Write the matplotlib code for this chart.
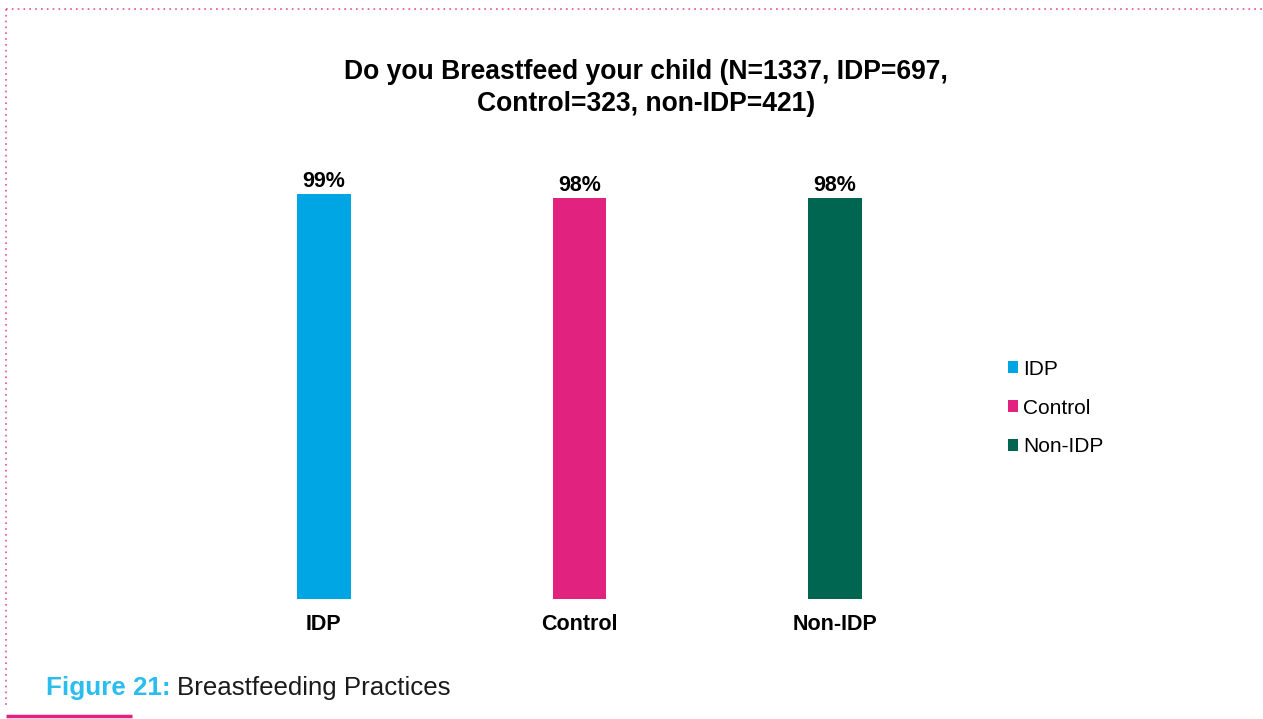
import matplotlib.pyplot as plt
from matplotlib.lines import Line2D
from matplotlib.patches import Patch

plt.rcParams['font.family'] = ['Liberation Sans', 'DejaVu Sans']

# Do you breastfeed your child (share answering yes)
groups = ['IDP', 'Control', 'Non-IDP']
values = [99, 98, 98]
labels = ['99%', '98%', '98%']
colors = ['#00A5E3', '#E2227F', '#006652']

W, H = 1263, 719
fig = plt.figure(figsize=(W / 100, H / 100), dpi=100)

# axes placed in pixel terms: bars baseline at y=599
ax = fig.add_axes([196 / W, (H - 599) / H, 767 / W, 450 / H])
x = list(range(len(groups)))
ax.bar(x, values, width=0.211, color=colors)
ax.set_xlim(-0.5, 2.5)
ax.set_ylim(0, 450 / 4.09)
for xi, v, lab in zip(x, values, labels):
    ax.text(xi, v + 0.5, lab, ha='center', va='bottom', fontsize=15.5, fontweight='bold')
ax.set_xticks(x)
ax.set_xticklabels(groups, fontsize=15.5, fontweight='bold')
ax.tick_params(axis='x', length=0, pad=11)
ax.set_yticks([])
for s in ax.spines.values():
    s.set_visible(False)

fig.text(646 / W, 1 - 88 / H, 'Do you Breastfeed your child (N=1337, IDP=697,\nControl=323, non-IDP=421)',
         ha='center', va='center', fontsize=19.1, fontweight='bold', linespacing=1.3)

handles = [Patch(facecolor=c, edgecolor='none') for c in colors]
fig.legend(handles, groups, loc='center left', bbox_to_anchor=(989 / W, 1 - 408 / H),
           frameon=False, fontsize=15, handlelength=0.5, handleheight=0.5,
           handletextpad=0.25, labelspacing=0.95)

# caption
fig.text(46 / W, 1 - 688 / H, 'Figure 21:', color='#2BBDEE', fontsize=18.7, fontweight='bold',
         ha='left', va='center')
fig.text(177 / W, 1 - 688 / H, 'Breastfeeding Practices', color='#1a1a1a', fontsize=18.6,
         ha='left', va='center')

# dotted page frame and accent rule
fig.add_artist(Line2D([6 / W, 1], [1 - 9 / H, 1 - 9 / H], color='#E2227F', lw=1.2,
                      ls=(0, (1, 2.5)), alpha=0.8))
fig.add_artist(Line2D([6 / W, 6 / W], [1 - 9 / H, 1 - 708 / H], color='#E2227F', lw=1.2,
                      ls=(0, (1, 2.5)), alpha=0.8))
fig.add_artist(Line2D([6 / W, 132 / W], [1 - 716 / H, 1 - 716 / H], color='#E2227F', lw=2.5,
                      solid_capstyle='butt'))

fig.savefig('out.png', dpi=100)
